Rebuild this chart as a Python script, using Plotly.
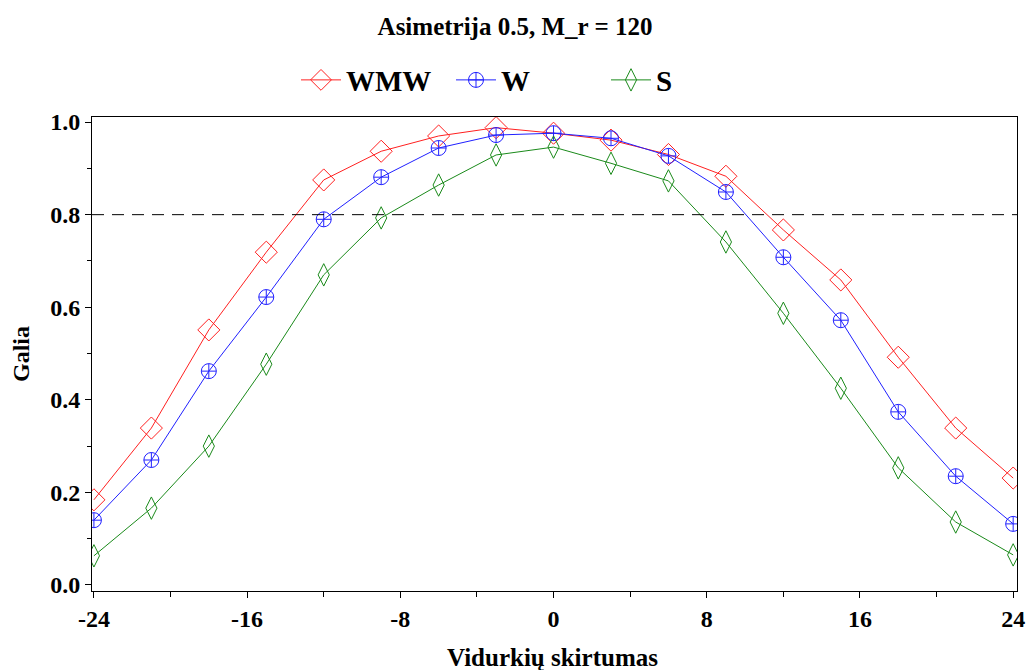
import plotly.graph_objects as go

x_vals = [-24, -21, -18, -15, -12, -9, -6, -3, 0, 3, 6, 9, 12, 15, 18, 21, 24]
wmw = [0.184, 0.339, 0.551, 0.719, 0.875, 0.937, 0.970, 0.988, 0.976, 0.961, 0.930, 0.883, 0.767, 0.659, 0.492, 0.339, 0.231]
w = [0.140, 0.270, 0.462, 0.622, 0.790, 0.881, 0.944, 0.972, 0.976, 0.965, 0.927, 0.849, 0.708, 0.572, 0.374, 0.235, 0.132]
s = [0.063, 0.166, 0.300, 0.477, 0.670, 0.793, 0.864, 0.929, 0.946, 0.911, 0.873, 0.741, 0.587, 0.425, 0.253, 0.136, 0.065]

x_ticks = [-24, -16, -8, 0, 8, 16, 24]
y_ticks = [0.0, 0.2, 0.4, 0.6, 0.8, 1.0]
y_tick_labels = ["0.0", "0.2", "0.4", "0.6", "0.8", "1.0"]
power_ref = 0.8

FONT = "Liberation Serif"

fig = go.Figure()
fig.add_trace(go.Scatter(x=x_vals, y=wmw, name="WMW", mode="lines+markers",
                         line=dict(color="#ff2020", width=1),
                         marker=dict(symbol="diamond-open", size=17, color="#ff2020", line=dict(width=1))))
fig.add_trace(go.Scatter(x=x_vals, y=w, name="W", mode="lines+markers",
                         line=dict(color="#2020ff", width=1),
                         marker=dict(symbol="circle-cross-open", size=15, color="#2020ff", line=dict(width=1))))
fig.add_trace(go.Scatter(x=x_vals, y=s, name="S", mode="lines+markers",
                         line=dict(color="#1a8a1a", width=1),
                         marker=dict(symbol="diamond-tall-open", size=16, color="#1a8a1a", line=dict(width=1))))

fig.add_hline(y=power_ref, line=dict(color="black", width=1, dash="12px,8px"))

fig.update_layout(
    width=1029, height=670,
    paper_bgcolor="white", plot_bgcolor="white",
    margin=dict(l=92, r=12, t=117, b=79),
    font=dict(family=FONT, color="black"),
    title=dict(text="<b>Asimetrija 0.5, M_r = 120</b>", x=515 / 1029, xanchor="center",
               y=1 - 26 / 670, yanchor="middle", font=dict(size=25, family=FONT)),
    legend=dict(orientation="h", x=(296 - 92) / 925, xanchor="left", y=1.078, yanchor="middle",
                font=dict(size=29, family=FONT, weight="bold"),
                entrywidth=100, entrywidthmode="pixels", itemwidth=40,
                bgcolor="rgba(0,0,0,0)"),
    showlegend=True,
    annotations=[
        dict(text="<b>Vidurkių skirtumas</b>", xref="paper", yref="paper", x=(552 - 92) / 925, y=-(657 - 591) / 474,
             xanchor="center", yanchor="middle", showarrow=False, font=dict(size=25, family=FONT)),
        dict(text="<b>Galia</b>", xref="paper", yref="paper", x=-(92 - 21) / 925, y=0.5,
             xanchor="center", yanchor="middle", textangle=-90, showarrow=False, font=dict(size=24, family=FONT)),
    ],
)

fig.update_xaxes(range=[-24.1, 24.2], tickmode="array", tickvals=x_ticks,
                 ticktext=[f"<b>{v}</b>" for v in x_ticks],
                 ticks="outside", ticklen=6, tickwidth=1, tickcolor="black",
                 minor=dict(dtick=4, tick0=0, ticks="outside", ticklen=5, tickcolor="black", tickwidth=1),
                 showline=True, linecolor="black", linewidth=1, mirror=True,
                 showgrid=False, zeroline=False, automargin=False,
                 tickfont=dict(size=24, family=FONT))
fig.update_yaxes(range=[-0.013, 1.011], tickmode="array", tickvals=y_ticks,
                 ticktext=[f"<b>{t}</b>" for t in y_tick_labels],
                 ticks="outside", ticklen=6, tickwidth=1, tickcolor="black",
                 minor=dict(dtick=0.1, tick0=0, ticks="outside", ticklen=4, tickcolor="black", tickwidth=1),
                 showline=True, linecolor="black", linewidth=1, mirror=True,
                 showgrid=False, zeroline=False, automargin=False,
                 tickfont=dict(size=24, family=FONT))

fig.write_html("out.html")
